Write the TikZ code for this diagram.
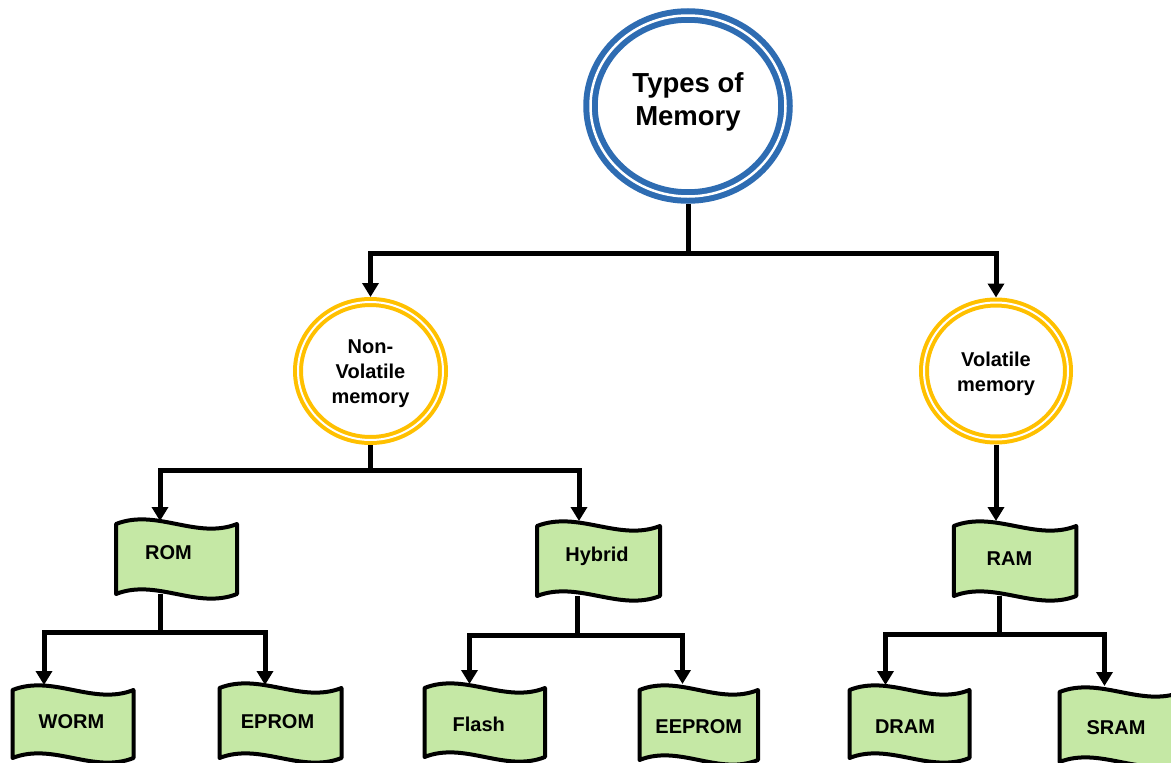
\documentclass[tikz,border=0pt]{standalone}
\usepackage{fontspec}
\setmainfont{Liberation Sans}
\usetikzlibrary{arrows.meta,shapes.geometric,calc,backgrounds}
\definecolor{ringblue}{RGB}{46,108,178}
\definecolor{ringyellow}{RGB}{255,192,0}
\definecolor{flaggreen}{RGB}{197,232,165}
\tikzset{
  wire/.style={draw=black, line width=5pt},
  arr/.style={-{Triangle[width=16pt,length=14pt]}},
  titlering/.style={ellipse, draw=ringblue, double=white, line width=6pt, double distance=2.5pt,
    fill=white, inner sep=0pt, outer sep=7pt},
  titletext/.style={align=center, inner sep=0pt, font=\bfseries\fontsize{27.5}{33}\selectfont},
  subring/.style={ellipse, draw=ringyellow, double=white, line width=4pt, double distance=2pt,
    fill=white, inner sep=0pt, outer sep=5pt},
  ringtext/.style={align=center, inner sep=0pt, font=\bfseries\fontsize{20}{25}\selectfont},
  flag/.style={rectangle, draw=none, inner sep=0pt, outer sep=0pt},
  flagtext/.style={font=\bfseries\fontsize{20}{24}\selectfont, inner sep=0pt},
  flagedge/.style={draw=black, line width=4pt, fill=flaggreen, line join=round},
}
\newcommand\wavebox[1]{%
  \path[flagedge] (#1.north west)
    .. controls ($(#1.north west)!0.3333!(#1.north east)+(0,-16)$) and ($(#1.north west)!0.6667!(#1.north east)+(0,16)$) .. (#1.north east)
    -- (#1.south east)
    .. controls ($(#1.south west)!0.6667!(#1.south east)+(0,16)$) and ($(#1.south west)!0.3333!(#1.south east)+(0,-16)$) .. (#1.south west)
    -- cycle;}
\begin{document}
\begin{tikzpicture}[x=1pt,y=-1pt]
\useasboundingbox (0,0) rectangle (1171,763);
% circles
\node[titlering, minimum width=195pt, minimum height=181pt,
  label={[titletext,yshift=4pt]center:{Types of\\Memory}}] (main) at (688,106) {};
\node[subring, minimum width=145pt, minimum height=138pt,
  label={[ringtext,yshift=-3pt]center:{Non-\\Volatile\\memory}}] (nv) at (370.5,371) {};
\node[subring, minimum width=144pt, minimum height=137pt,
  label={[ringtext,yshift=-3pt]center:{Volatile\\memory}}] (vol) at (996,371) {};
% flags
\node[flag, minimum width=121pt, minimum height=70pt,
  label={[flagtext,xshift=-8pt,yshift=6pt]center:ROM}] (rom) at (176.5,559) {};
\node[flag, minimum width=123pt, minimum height=70pt,
  label={[flagtext,xshift=-1.5pt,yshift=5pt]center:Hybrid}] (hyb) at (598.5,561) {};
\node[flag, minimum width=122.5pt, minimum height=70pt,
  label={[flagtext,xshift=-5.5pt,yshift=2pt]center:RAM}] (ram) at (1015,561) {};
\node[flag, minimum width=121pt, minimum height=68pt,
  label={[flagtext,xshift=-1.5pt,yshift=2pt]center:WORM}] (worm) at (73,724) {};
\node[flag, minimum width=122pt, minimum height=70pt,
  label={[flagtext,xshift=-3pt,yshift=1pt]center:EPROM}] (eprom) at (280.5,723) {};
\node[flag, minimum width=120.5pt, minimum height=69pt,
  label={[flagtext,xshift=-6pt,yshift=-1.5pt]center:Flash}] (flash) at (484.75,722.5) {};
\node[flag, minimum width=118.5pt, minimum height=70pt,
  label={[flagtext,xshift=0pt,yshift=-2pt]center:EEPROM}] (eeprom) at (698.75,725) {};
\node[flag, minimum width=120pt, minimum height=68pt,
  label={[flagtext,xshift=-4.5pt,yshift=-3pt]center:DRAM}] (dram) at (909.5,724) {};
\node[flag, minimum width=122pt, minimum height=70pt,
  label={[flagtext,xshift=-4.5pt,yshift=-1pt]center:SRAM}] (sram) at (1120.5,727) {};
\begin{pgfonlayer}{background}
  \wavebox{rom}\wavebox{hyb}\wavebox{ram}
  \wavebox{worm}\wavebox{eprom}\wavebox{flash}
  \wavebox{eeprom}\wavebox{dram}\wavebox{sram}
\end{pgfonlayer}
% junctions and arrow targets
\coordinate (j0) at (688,253);
\coordinate (j1) at (370.5,470);
\coordinate (romtip) at (160,521);
\coordinate (hybtip) at (579,521);
\coordinate (ramtip) at (996,521);
\coordinate (j2) at (160,632);
\coordinate (j3) at (577.5,635);
\coordinate (j4) at (999,634.5);
\coordinate (wormtip) at (44,685);
\coordinate (epromtip) at (265,685);
\coordinate (flashtip) at (469.5,684);
\coordinate (eepromtip) at (682.5,684);
\coordinate (dramtip) at (885.5,685);
\coordinate (sramtip) at (1104.5,686);
% connectors
\draw[wire] (main.south) -- (j0);
\draw[wire,arr] (j0) -| (nv.north);
\draw[wire,arr] (j0) -| (vol.north);
\draw[wire] (nv.south) -- (j1);
\draw[wire,arr] (j1) -| (romtip);
\draw[wire,arr] (j1) -| (hybtip);
\draw[wire,arr] (vol.south) -- (ramtip);
\draw[wire] (j2 |- rom.south) -- (j2);
\draw[wire,arr] (j2) -| (wormtip);
\draw[wire,arr] (j2) -| (epromtip);
\draw[wire] (j3 |- hyb.south) -- (j3);
\draw[wire,arr] (j3) -| (flashtip);
\draw[wire,arr] (j3) -| (eepromtip);
\draw[wire] (j4 |- ram.south) -- (j4);
\draw[wire,arr] (j4) -| (dramtip);
\draw[wire,arr] (j4) -| (sramtip);
\end{tikzpicture}
\end{document}
